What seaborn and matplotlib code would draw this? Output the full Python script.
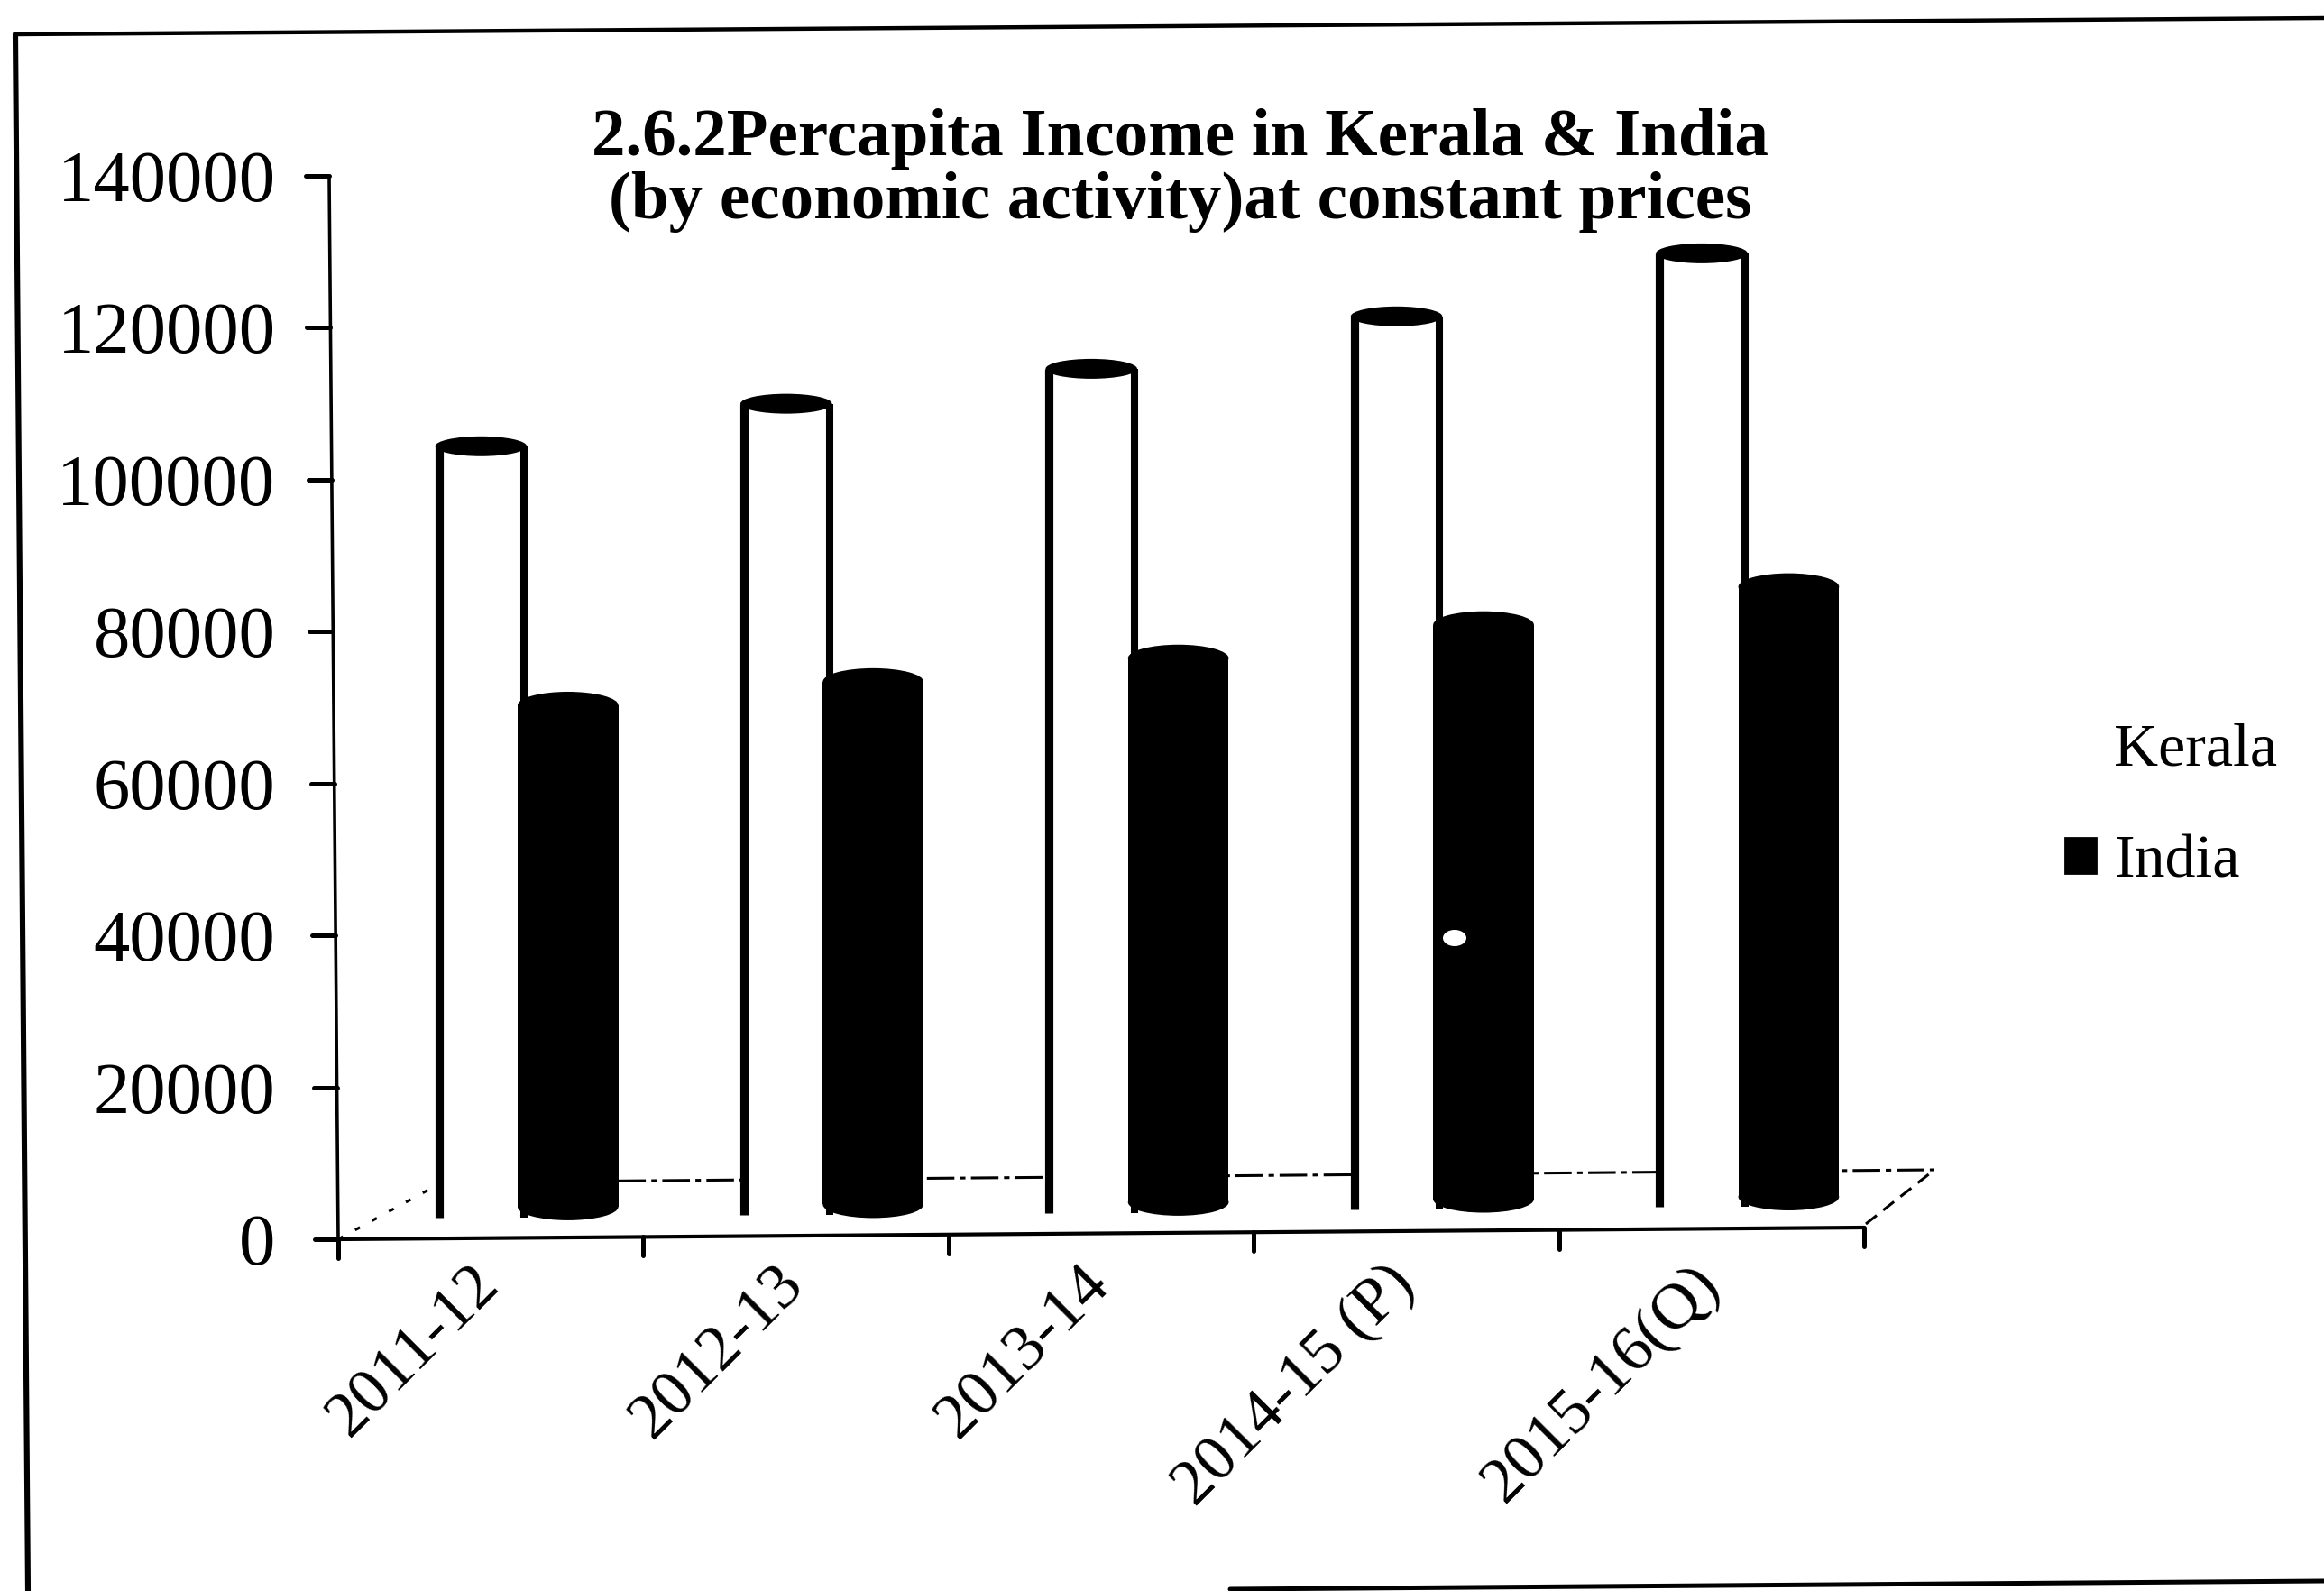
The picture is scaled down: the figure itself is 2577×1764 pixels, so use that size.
import matplotlib
matplotlib.use("Agg")
import matplotlib.pyplot as plt
import seaborn as sns
import pandas as pd
from matplotlib.lines import Line2D
from matplotlib.patches import Patch, Ellipse
from matplotlib.transforms import ScaledTranslation

years = ["2011-12", "2012-13", "2013-14", "2014-15 (P)", "2015-16(Q)"]
kerala = [104400, 110000, 114600, 121500, 129800]
india = [70300, 73400, 76500, 80900, 85900]
kerala_base = [2850, 3200, 3500, 3900, 4280]
india_base = [2500, 2800, 3100, 3500, 3800]
y_ticks = [0, 20000, 40000, 60000, 80000, 100000, 120000, 140000]

sns.set_theme(style="white")
plt.rcParams['font.family'] = ['Liberation Serif', 'DejaVu Serif']

df = pd.DataFrame({"year": years * 2,
                   "income": kerala + india,
                   "series": ["Kerala"] * 5 + ["India"] * 5})

W, H = 2577, 1764
AX_L, AX_R, AX_T, AX_B = 375, 2067, 195, 1374
fig = plt.figure(figsize=(W / 200, H / 200), dpi=200, facecolor="white")
ax = fig.add_axes([AX_L / W, 1 - AX_B / H, (AX_R - AX_L) / W, (AX_B - AX_T) / H])
ax.patch.set_visible(False)

sns.barplot(data=df, x="year", y="income", hue="series",
            palette={"Kerala": "white", "India": "black"},
            width=0.6, gap=0, dodge=True, legend=False, ax=ax, linewidth=0)

ax.set_ylim(0, 140000)
ax.set_xlim(-0.5, 4.5)
ax.set_xlabel("")
ax.set_ylabel("")
ax.set_yticks(y_ticks)

px_x = (AX_R - AX_L) / 5          # pixels per category
px_y = (AX_B - AX_T) / 140000     # pixels per unit
shift = 0.118                     # the 3-D view sets the columns off from the tick centre
cap_kerala = 22 / px_y
cap_india = 30 / px_y

bars = list(ax.patches)[:10]
for i, p in enumerate(bars[:5]):           # Kerala: open white tube with a dark lid
    top = kerala[i]
    p.set_x(p.get_x() + shift)
    p.set_y(kerala_base[i])
    p.set_height(top - kerala_base[i])
    x0, x1 = p.get_x() + 4 / px_x, p.get_x() + p.get_width() - 3 / px_x
    ax.plot([x0, x0], [kerala_base[i], top], color="black", lw=3.3, solid_capstyle="butt", zorder=3)
    ax.plot([x1, x1], [kerala_base[i], top], color="black", lw=2.9, solid_capstyle="butt", zorder=3)
    ax.add_patch(Ellipse((p.get_x() + p.get_width() / 2, top), p.get_width(), cap_kerala,
                         facecolor="black", edgecolor="none", zorder=3))
for i, p in enumerate(bars[5:]):           # India: solid black cylinder, rounded ends
    top = india[i]
    base = india_base[i]
    p.set_x(p.get_x() + shift - 0.03)
    p.set_width(p.get_width() + 0.03)
    p.set_y(base + cap_india / 2)
    p.set_height(top - base - cap_india / 2)
    p.set_zorder(4)
    cx = p.get_x() + p.get_width() / 2
    for yc in (top, base + cap_india / 2):
        ax.add_patch(Ellipse((cx, yc), p.get_width(), cap_india, facecolor="black",
                             edgecolor="none", zorder=4, clip_on=False))

# Scan is slightly rotated: the axes lean a little, so they are drawn as lines
for s in ax.spines.values():
    s.set_visible(False)
ax.tick_params(axis="both", which="both", length=0)
ax.tick_params(axis="y", labelsize=29, pad=25, labelcolor="black", left=False)
ax.tick_params(axis="x", labelsize=26, pad=6, labelcolor="black", bottom=False)
label_offset = ScaledTranslation(-24 / 200, 0, fig.dpi_scale_trans)
for lab in ax.get_xticklabels():
    lab.set_rotation(45)
    lab.set_ha("right")
    lab.set_rotation_mode("anchor")
    lab.set_transform(lab.get_transform() + label_offset)

axis_rise = 13 / px_y
axis_lean = 10 / px_x
x_at = lambda v: -0.5 - axis_lean * v / 140000
y_at = lambda x: axis_rise * (x + 0.5) / 5
ax.plot([x_at(0), x_at(140000)], [0, 140000], color="black", lw=1.3, clip_on=False, zorder=5)
for v in y_ticks:
    ax.plot([x_at(v), x_at(v) - 26 / px_x], [v, v], color="black", lw=1.8, clip_on=False, zorder=5)
x_edges = [-0.5, 0.5, 1.5, 2.5, 3.5, 4.5]
ax.plot([x_edges[0], x_edges[-1]], [y_at(x_edges[0]), y_at(x_edges[-1])],
        color="black", lw=1.5, clip_on=False, zorder=5)
for x in x_edges:
    ax.plot([x, x], [y_at(x), y_at(x) - 21 / px_y], color="black", lw=1.8, clip_on=False, zorder=5)


def page_line(x0, y0, x1, y1, **kw):
    fig.add_artist(Line2D([x0 / W, x1 / W], [1 - y0 / H, 1 - y1 / H], color="black",
                          transform=fig.transFigure, **kw))


# floor of the 3-D box, behind the columns
floor = dict(lw=1.1, zorder=-1)
page_line(490, 1311, 2145, 1297, linestyle=(0, (10, 2, 2, 2)), **floor)
page_line(375, 1374, 490, 1311, linestyle=(0, (2, 5)), **floor)
page_line(2069, 1357, 2145, 1297, linestyle=(0, (5, 3)), **floor)

# page frame
page_line(17, 38, 2577, 20, lw=1.6, zorder=6)
page_line(17, 38, 31, 1764, lw=2.2, zorder=6)
page_line(1364, 1762, 2577, 1753, lw=1.8, zorder=6)

fig.text(1309 / W, 1 - 189 / H, "2.6.2Percapita Income in Kerala & India\n(by economic activity)at constant prices",
         ha="center", va="center", fontsize=27, fontweight="bold", color="black", linespacing=1.05)

leg = fig.legend(handles=[Patch(facecolor="white", edgecolor="white", label="Kerala"),
                          Patch(facecolor="black", edgecolor="black", label="India")],
                 loc="center left", bbox_to_anchor=(2290 / W, 1 - 894 / H), frameon=False, fontsize=24.5,
                 labelspacing=0.92, handlelength=0.5, handleheight=0.5, handletextpad=0.3,
                 borderpad=0, borderaxespad=0, labelcolor="black")

# scanning flaw on the fourth India column
fig.add_artist(Ellipse((1613 / W, 1 - 1040 / H), 26 / W, 18 / H, angle=0, facecolor="white",
                       edgecolor="none", transform=fig.transFigure, zorder=6))

fig.savefig("out.png", dpi=200, facecolor="white")
